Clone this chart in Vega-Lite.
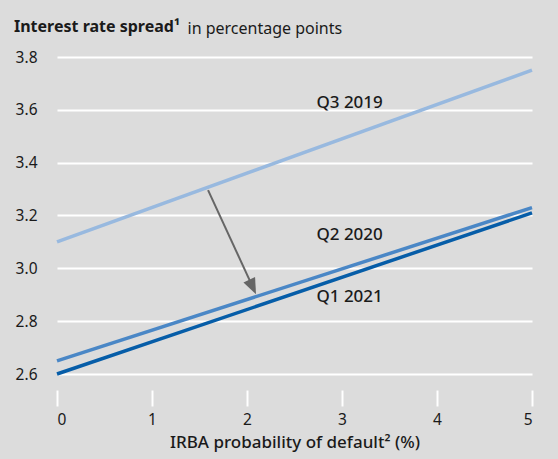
{
  "$schema": "https://vega.github.io/schema/vega-lite/v6.json",
  "width": 475,
  "height": 317,
  "autosize": {"type": "none"},
  "padding": {"left": 57, "top": 57, "right": 26, "bottom": 85},
  "background": "#dcdcdc",
  "config": {
    "view": {"stroke": null},
    "font": "Noto Sans",
    "text": {"font": "Noto Sans"}
  },
  "title": {
    "text": "Interest rate spread¹",
    "anchor": "start",
    "frame": "group",
    "dx": -43,
    "offset": -28,
    "baseline": "alphabetic",
    "fontSize": 16,
    "fontWeight": "bold",
    "font": "Noto Sans",
    "color": "#1a1a1a"
  },
  "datasets": {
    "lines": [
      {"series": "Q3 2019", "pd": 0, "spread": 3.10},
      {"series": "Q3 2019", "pd": 5, "spread": 3.75},
      {"series": "Q2 2020", "pd": 0, "spread": 2.65},
      {"series": "Q2 2020", "pd": 5, "spread": 3.23},
      {"series": "Q1 2021", "pd": 0, "spread": 2.60},
      {"series": "Q1 2021", "pd": 5, "spread": 3.21}
    ],
    "labels": [
      {"label": "Q3 2019", "pd": 3.08, "spread": 3.626},
      {"label": "Q2 2020", "pd": 3.08, "spread": 3.126},
      {"label": "Q1 2021", "pd": 3.08, "spread": 2.891}
    ],
    "arrow": [
      {"pd": 1.59, "spread": 3.296, "pd_end": 2.06, "spread_end": 2.93, "tip_pd": 2.095, "tip_spread": 2.902}
    ]
  },
  "layer": [
    {
      "data": {"name": "lines"},
      "mark": {"type": "line", "strokeCap": "butt"},
      "encoding": {
        "x": {
          "field": "pd", "type": "quantitative",
          "scale": {"domain": [0, 5], "nice": false},
          "axis": {
            "values": [0, 1, 2, 3, 4, 5],
            "format": "d",
            "grid": false, "domain": false,
            "ticks": true, "tickColor": "#ffffff", "tickOpacity": 1, "tickWidth": 2, "tickSize": 16,
            "offset": 16,
            "labelFontSize": 15.5, "labelColor": "#1a1a1a", "labelPadding": 6, "labelFont": "Noto Sans",
            "title": "IRBA probability of default² (%)",
            "titleFontSize": 17, "titleFontWeight": 500, "titleColor": "#1a1a1a", "titleFont": "Noto Sans",
            "titlePadding": 7
          }
        },
        "y": {
          "field": "spread", "type": "quantitative",
          "scale": {"domain": [2.6, 3.8], "nice": false, "zero": false},
          "axis": {
            "values": [2.6, 2.8, 3.0, 3.2, 3.4, 3.6, 3.8],
            "format": ".1f",
            "grid": true, "gridColor": "#ffffff", "gridWidth": 2,
            "domain": false, "ticks": false,
            "labelFontSize": 15.5, "labelColor": "#1a1a1a", "labelPadding": 20, "labelFont": "Noto Sans",
            "title": "in percentage points",
            "titleAngle": 0, "titleAlign": "left", "titleBaseline": "alphabetic",
            "titleX": 130, "titleY": -24,
            "titleFontSize": 16, "titleFontWeight": "normal", "titleColor": "#1a1a1a", "titleFont": "Noto Sans"
          }
        },
        "color": {
          "field": "series", "type": "nominal",
          "scale": {"domain": ["Q3 2019", "Q2 2020", "Q1 2021"], "range": ["#98b9df", "#4a87c6", "#065da8"]},
          "legend": null
        },
        "strokeWidth": {
          "field": "series", "type": "nominal",
          "scale": {"domain": ["Q3 2019", "Q2 2020", "Q1 2021"], "range": [3.5, 3.5, 6.5]},
          "legend": null
        }
      }
    },
    {
      "data": {"name": "arrow"},
      "mark": {"type": "rule", "color": "#666666", "strokeWidth": 2},
      "encoding": {
        "x": {"field": "pd", "type": "quantitative"},
        "y": {"field": "spread", "type": "quantitative"},
        "x2": {"field": "pd_end"},
        "y2": {"field": "spread_end"}
      }
    },
    {
      "data": {"name": "arrow"},
      "mark": {"type": "point", "shape": "M0,0L-0.4,-1L0.4,-1Z", "filled": true, "color": "#666666", "opacity": 1, "size": 1024, "angle": 335},
      "encoding": {
        "x": {"field": "tip_pd", "type": "quantitative"},
        "y": {"field": "tip_spread", "type": "quantitative"}
      }
    },
    {
      "data": {"name": "labels"},
      "mark": {"type": "text", "fontSize": 17, "fontWeight": 500, "align": "center", "baseline": "middle", "color": "#1a1a1a", "font": "Noto Sans"},
      "encoding": {
        "x": {"field": "pd", "type": "quantitative"},
        "y": {"field": "spread", "type": "quantitative"},
        "text": {"field": "label"}
      }
    }
  ]
}
